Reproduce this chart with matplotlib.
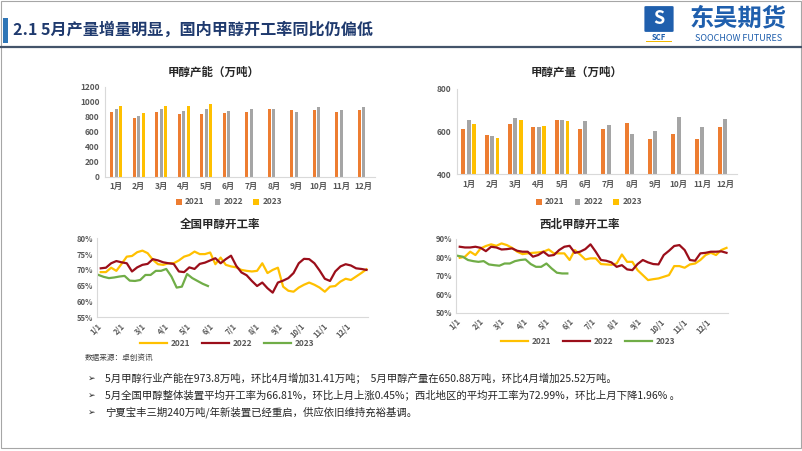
import numpy as np
import pandas as pd
import matplotlib
matplotlib.use("Agg")
import matplotlib.pyplot as plt
import matplotlib.dates as mdates
from matplotlib.patches import Rectangle, FancyBboxPatch
from matplotlib.lines import Line2D

plt.rcParams['font.family'] = ['Noto Sans CJK SC', 'DejaVu Sans']

# ---------------- data ----------------
months = ['1月', '2月', '3月', '4月', '5月', '6月', '7月', '8月', '9月', '10月', '11月', '12月']
years = ['2021', '2022', '2023']

cap_2021 = [867, 778, 867, 836, 840, 853, 867, 898, 893, 893, 867, 893]
cap_2022 = [902, 809, 902, 871, 902, 871, 902, 898, 867, 924, 893, 924]
cap_2023 = [938, 853, 945, 942.4, 973.8, np.nan, np.nan, np.nan, np.nan, np.nan, np.nan, np.nan]

out_2021 = [614, 583, 637, 622, 653, 614, 614, 640, 565, 588, 565, 620]
out_2022 = [653, 578, 661, 622, 653, 648, 630, 588, 604, 666, 622, 658]
out_2023 = [634, 570, 653, 625.36, 650.88, np.nan, np.nan, np.nan, np.nan, np.nan, np.nan, np.nan]

nat_2021 = [69.3, 69.3, 70.7, 69.7, 71.9, 74.2, 74.4, 75.6, 76.1, 75.3, 73.2, 71.8, 71.6,
            72.1, 72.1, 73.0, 74.2, 74.7, 75.8, 75.0, 75.0, 75.5, 71.8, 73.9, 71.6, 71.1,
            70.8, 70.0, 69.7, 69.5, 69.7, 72.1, 69.0, 70.0, 70.7, 64.7, 63.4, 63.1, 64.4,
            65.3, 66.0, 65.3, 64.4, 63.1, 64.7, 64.9, 66.3, 67.2, 66.8, 67.9, 69.0, 70.2]
nat_2022 = [70.5, 70.7, 72.1, 72.8, 72.4, 72.1, 69.5, 70.8, 71.6, 71.9, 73.4, 73.0, 72.4,
            72.1, 71.9, 69.5, 69.3, 70.8, 70.3, 71.9, 72.3, 73.0, 73.7, 72.1, 73.4, 74.5,
            71.3, 69.2, 68.3, 66.5, 64.9, 66.0, 64.2, 62.8, 66.0, 66.6, 67.4, 69.0, 72.1,
            73.5, 73.4, 72.1, 69.8, 67.2, 66.5, 69.5, 71.1, 71.8, 71.4, 70.5, 70.3, 70.0]
nat_2023 = [68.4, 67.8, 67.4, 67.6, 67.9, 68.1, 66.6, 66.5, 66.8, 68.4, 68.4, 69.7, 69.7,
            70.3, 67.9, 64.4, 64.7, 68.7, 67.4, 66.5, 65.6, 64.9]

nw_2021 = [79.8, 80.4, 83.1, 81.3, 84.9, 86.2, 87.1, 86.3, 87.6, 86.7, 85.2, 83.1, 81.8,
           82.2, 82.5, 82.7, 83.1, 84.3, 82.2, 82.2, 82.2, 78.6, 84.0, 81.6, 78.9, 79.5,
           79.5, 76.4, 76.2, 76.0, 76.7, 81.6, 77.6, 77.6, 73.1, 70.4, 67.7, 68.2, 68.6,
           69.5, 70.4, 75.3, 75.3, 74.4, 76.2, 76.7, 78.6, 81.3, 82.5, 81.3, 84.0, 85.2]
nw_2022 = [85.8, 85.4, 85.4, 85.8, 85.2, 83.4, 85.8, 85.4, 84.3, 84.5, 84.9, 83.6, 83.1,
           83.1, 80.4, 81.3, 83.1, 80.9, 81.3, 84.0, 85.8, 86.3, 82.5, 83.1, 84.5, 87.1,
           83.1, 78.6, 78.2, 77.3, 74.9, 75.8, 73.5, 73.1, 76.4, 78.6, 77.3, 76.4, 76.2,
           81.3, 83.6, 86.2, 86.7, 84.0, 78.6, 78.2, 82.2, 82.5, 83.1, 83.1, 83.3, 82.5]
nw_2023 = [80.9, 80.4, 78.6, 78.0, 77.6, 78.0, 76.2, 75.8, 75.5, 76.7, 76.7, 78.0, 78.6,
           78.9, 76.4, 74.9, 74.9, 76.7, 74.0, 71.7, 71.3, 71.3]

bar_colors = ['#ED7D31', '#A5A5A5', '#FFC000']
line_colors = ['#FFC000', '#9B0E1A', '#70AD47']
TXT = '#595959'

W, H = 802, 451
fig = plt.figure(figsize=(W / 100, H / 100), dpi=100)
fig.patch.set_facecolor('white')

def fx(px):
    return px / W

def fy(py):
    return 1 - py / H

# ---------------- header ----------------
fig.patches.append(Rectangle((fx(1), fy(448)), fx(800), 447 / H, transform=fig.transFigure,
                             fill=False, edgecolor='#A6A6A6', linewidth=0.8))
fig.patches.append(Rectangle((fx(3), fy(43)), fx(5), 25 / H, transform=fig.transFigure,
                             facecolor='#2E75B6', edgecolor='none'))
fig.add_artist(Line2D([0, 1], [fy(47), fy(47)], transform=fig.transFigure,
                      color='#44546A', linewidth=1.6))
fig.text(fx(13), fy(30), '2.1 5月产量增量明显，国内甲醇开工率同比仍偏低', fontsize=11.6,
         fontweight='bold', color='#1F3A6E', va='center', ha='left')
# logo
fig.patches.append(FancyBboxPatch((fx(646), fy(31)), fx(26), 24 / H, transform=fig.transFigure,
                                  boxstyle='round,pad=0.002', facecolor='#1F5FAD', edgecolor='none'))
fig.text(fx(659), fy(19), 'S', fontsize=13, fontweight='bold', color='white',
         ha='center', va='center', style='italic')
fig.text(fx(659), fy(37), 'SCF', fontsize=5.5, fontweight='bold', color='#1F5FAD',
         ha='center', va='center', style='italic')
fig.patches.append(Rectangle((fx(646), fy(42)), fx(26), 1.5 / H, transform=fig.transFigure,
                             facecolor='#F2B800', edgecolor='none'))
fig.text(fx(738), fy(18), '东吴期货', fontsize=17.5, fontweight='bold', color='#1F5FAD',
         ha='center', va='center')
fig.text(fx(739), fy(38.5), 'SOOCHOW FUTURES', fontsize=6.5, color='#1F5FAD',
         ha='center', va='center')

# ---------------- bar charts ----------------
def bar_chart(rect, series, ylim, yticks, title, title_xy, legend_xy, width, offset):
    ax = fig.add_axes(rect)
    x = np.arange(len(months))
    handles = []
    for i, (vals, c, yr) in enumerate(zip(series, bar_colors, years)):
        h = ax.bar(x + (i - 1) * offset, vals, width=width, color=c, label=yr)
        handles.append(h)
    ax.set_xlim(-0.5, len(months) - 0.5)
    ax.set_ylim(*ylim)
    ax.set_yticks(yticks)
    ax.set_xticks(x)
    ax.set_xticklabels(months)
    for s in ['top', 'right']:
        ax.spines[s].set_visible(False)
    for s in ['left', 'bottom']:
        ax.spines[s].set_color('#D9D9D9')
        ax.spines[s].set_linewidth(0.8)
    ax.tick_params(length=0, labelsize=6, colors=TXT, pad=4)
    for lab in ax.get_xticklabels() + ax.get_yticklabels():
        lab.set_fontweight('bold')
    fig.text(fx(title_xy[0]), fy(title_xy[1]), title, fontsize=8.3, fontweight='bold',
             color='#262626', ha='center', va='center')
    leg = fig.legend(handles=handles, loc='center', bbox_to_anchor=(fx(legend_xy[0]), fy(legend_xy[1])),
                     ncol=3, frameon=False, fontsize=6, handlelength=0.7, handleheight=0.7,
                     handletextpad=0.4, columnspacing=1.2)
    for t in leg.get_texts():
        t.set_color(TXT)
        t.set_fontweight('bold')
    return ax

bar_chart([fx(105), fy(176.7), fx(270), 90 / H], [cap_2021, cap_2022, cap_2023],
          (0, 1200), range(0, 1201, 200), '甲醇产能（万吨）', (214, 72.5), (229, 202), 0.15, 0.2)
bar_chart([fx(457), fy(174.3), fx(280), 85.6 / H], [out_2021, out_2022, out_2023],
          (400, 800), [400, 600, 800], '甲醇产量（万吨）', (577, 72.5), (589, 202), 0.17, 0.235)

# ---------------- line charts ----------------
def line_chart(rect, series, starts, ylim, yticks, title, title_xy, legend_xy):
    ax = fig.add_axes(rect)
    handles = []
    for vals, st, c, yr in zip(series, starts, line_colors, years):
        dates = pd.date_range(st, periods=len(vals), freq='7D')
        h, = ax.plot(dates, vals, color=c, linewidth=1.6, label=yr)
        handles.append(h)
    ax.set_xlim(pd.Timestamp('2021-01-01'), pd.Timestamp('2021-12-31'))
    ax.set_ylim(*ylim)
    ax.set_yticks(yticks)
    ax.yaxis.set_major_formatter(matplotlib.ticker.FuncFormatter(lambda v, p: f'{v:.0f}%'))
    ax.xaxis.set_major_locator(mdates.MonthLocator())
    ax.xaxis.set_major_formatter(matplotlib.ticker.FuncFormatter(
        lambda v, p: f'{mdates.num2date(v).month}/{mdates.num2date(v).day}'))
    for s in ['top', 'right']:
        ax.spines[s].set_visible(False)
    for s in ['left', 'bottom']:
        ax.spines[s].set_color('#D9D9D9')
        ax.spines[s].set_linewidth(0.8)
    ax.tick_params(length=0, labelsize=5.5, colors=TXT, pad=3)
    for lab in ax.get_xticklabels():
        lab.set_rotation(45)
        lab.set_ha('right')
        lab.set_rotation_mode('anchor')
    for lab in ax.get_xticklabels() + ax.get_yticklabels():
        lab.set_fontweight('bold')
    fig.text(fx(title_xy[0]), fy(title_xy[1]), title, fontsize=8.3, fontweight='bold',
             color='#262626', ha='center', va='center')
    leg = fig.legend(handles=handles, loc='center', bbox_to_anchor=(fx(legend_xy[0]), fy(legend_xy[1])),
                     ncol=3, frameon=False, fontsize=6, handlelength=3.2,
                     handletextpad=0.4, columnspacing=1.5)
    for t in leg.get_texts():
        t.set_color(TXT)
        t.set_fontweight('bold')
    return ax

line_chart([fx(97), fy(317.3), fx(271), 79 / H], [nat_2021, nat_2022, nat_2023],
           ['2021-01-06', '2021-01-06', '2021-01-03'], (55, 80), range(55, 81, 5),
           '全国甲醇开工率', (220, 224), (227, 343))
line_chart([fx(456), fy(312.7), fx(272), 73.7 / H], [nw_2021, nw_2022, nw_2023],
           ['2021-01-06', '2021-01-06', '2021-01-03'], (50, 90), range(50, 91, 10),
           '西北甲醇开工率', (580, 224), (588, 341))

# ---------------- text ----------------
fig.text(fx(85), fy(358), '数据来源：卓创资讯', fontsize=5.5, color='#404040', va='center')
bullets = [
    '5月甲醇行业产能在973.8万吨，环比4月增加31.41万吨；  5月甲醇产量在650.88万吨，环比4月增加25.52万吨。',
    '5月全国甲醇整体装置平均开工率为66.81%，环比上月上涨0.45%；西北地区的平均开工率为72.99%，环比上月下降1.96% 。',
    '宁夏宝丰三期240万吨/年新装置已经重启，供应依旧维持充裕基调。',
]
for i, b in enumerate(bullets):
    y = 378 + i * 17
    fig.text(fx(88), fy(y), '➢', fontsize=6.5, color='#262626', va='center',
             family=['DejaVu Sans'])
    fig.text(fx(105), fy(y), b, fontsize=7.5, color='#262626', va='center')

fig.savefig('out.png', dpi=100, facecolor='white')
